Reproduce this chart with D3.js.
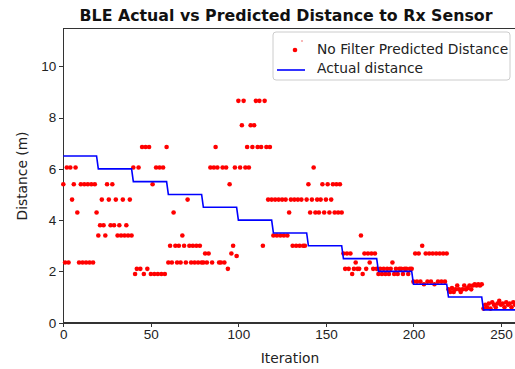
<!DOCTYPE html>
<html lang="en">
<head>
    <meta charset="UTF-8">
    <title>BLE Actual vs Predicted Distance to Rx Sensor</title>
    <script src="https://d3js.org/d3.v7.min.js"></script>
    <style>
        body { margin: 0; background: #fff; overflow: hidden; }
        svg { font-family: "DejaVu Sans", sans-serif; }
        .axis text { font-size: 13.5px; fill: #222; }
        .axis path, .axis line { stroke: #333; shape-rendering: crispEdges; }
    </style>
</head>
<body>
    <svg id="chart" width="515" height="369"></svg>

    <script>
        // predicted distance, one value per iteration (rows of 20)
        const predicted = [
            5.4, 2.35, 6.05, 2.35, 6.05, 4.8, 5.4, 6.05, 4.3, 2.35, 5.4, 2.35, 5.4, 2.35, 5.4, 2.35, 5.4, 2.35, 5.4, 4.3,
            3.4, 3.8, 4.8, 3.8, 3.4, 5.4, 4.8, 3.8, 5.4, 3.8, 4.8, 3.4, 3.8, 3.4, 4.8, 3.4, 3.8, 3.4, 4.8, 3.4,
            6.05, 1.9, 2.1, 6.05, 2.1, 6.85, 1.9, 6.85, 2.1, 6.85, 1.9, 5.4, 1.9, 6.05, 1.9, 6.05, 1.9, 6.05, 1.9, 6.85,
            2.35, 3.0, 2.35, 4.3, 3.0, 2.35, 3.0, 2.35, 3.4, 3.0, 2.35, 4.8, 3.0, 2.35, 3.0, 2.35, 3.0, 2.35, 3.0, 2.35,
            2.35, 2.7, 2.35, 2.7, 6.05, 2.35, 6.05, 6.85, 6.05, 2.35, 2.35, 6.05, 2.35, 6.05, 2.1, 5.4, 2.7, 3.0, 6.05, 2.6,
            8.65, 6.05, 7.7, 8.65, 6.05, 6.85, 6.05, 7.7, 6.85, 7.7, 8.65, 6.85, 8.65, 6.85, 3.0, 8.65, 6.85, 4.8, 6.85, 4.8,
            3.4, 4.8, 3.4, 4.8, 3.4, 4.8, 3.4, 4.8, 3.4, 4.3, 4.8, 3.0, 4.8, 3.0, 4.8, 3.0, 4.8, 3.0, 3.0, 4.8,
            5.4, 4.3, 4.8, 6.05, 4.3, 4.8, 4.3, 4.8, 5.4, 4.3, 4.8, 5.4, 4.3, 4.8, 5.4, 4.3, 5.4, 4.3, 5.4, 4.3,
            2.7, 2.1, 2.7, 2.1, 2.7, 1.9, 2.1, 2.35, 2.1, 2.1, 3.4, 1.9, 2.7, 2.1, 2.7, 2.35, 2.7, 2.1, 2.7, 2.1,
            1.9, 2.1, 1.9, 2.1, 1.9, 2.1, 1.9, 2.1, 2.35, 1.9, 2.1, 1.9, 2.1, 2.1, 1.9, 2.1, 2.1, 1.9, 2.1, 2.1,
            1.6, 2.7, 1.6, 2.7, 1.6, 3.0, 1.5, 2.7, 1.6, 2.7, 1.6, 2.7, 1.5, 2.7, 1.6, 2.7, 1.6, 2.7, 1.6, 2.7,
            1.3, 1.2, 1.35, 1.2, 1.3, 1.45, 1.3, 1.2, 1.3, 1.45, 1.3, 1.35, 1.45, 1.3, 1.45, 1.5, 1.45, 1.5, 1.45, 1.5,
            0.55, 0.7, 0.6, 0.75, 0.55, 0.8, 0.7, 0.6, 0.75, 0.85, 0.7, 0.75, 0.6, 0.8, 0.7, 0.75, 0.6, 0.8, 0.7, 0.75
        ];

        // actual distance: one level per block of iterations
        const actualStart = [0, 20, 40, 60, 80, 100, 120, 140, 160, 180, 200, 220, 240];
        const actualEnd   = [19, 39, 59, 79, 99, 119, 139, 159, 179, 199, 219, 239, 259];
        const actualDist  = [6.5, 6.0, 5.5, 5.0, 4.5, 4.0, 3.5, 3.0, 2.5, 2.0, 1.5, 1.0, 0.5];

        const xTicks = [0, 50, 100, 150, 200, 250];
        const yTicks = [0, 2, 4, 6, 8, 10];
        const legendLabels = ["No Filter Predicted Distance", "Actual distance"];

        const svg = d3.select("#chart");
        const margin = {top: 28.3, left: 63.3},
              plotW = 455.2, plotH = 294.4;

        const x = d3.scaleLinear().domain([0, 260]).range([margin.left, margin.left + plotW]);
        const y = d3.scaleLinear().domain([0, 11.48]).range([margin.top + plotH, margin.top]);

        // axes
        svg.append("g").attr("class", "axis")
            .attr("transform", `translate(0,${margin.top + plotH})`)
            .call(d3.axisBottom(x).tickValues(xTicks).tickSize(4).tickPadding(3).tickSizeOuter(0));
        svg.append("g").attr("class", "axis")
            .attr("transform", `translate(${margin.left},0)`)
            .call(d3.axisLeft(y).tickValues(yTicks).tickSize(4).tickPadding(3).tickSizeOuter(0));

        // frame
        svg.append("rect").attr("x", margin.left).attr("y", margin.top)
            .attr("width", plotW).attr("height", plotH)
            .attr("fill", "none").attr("stroke", "#333").attr("stroke-width", 1)
            .attr("shape-rendering", "crispEdges");

        // predicted dots
        svg.append("g").selectAll("circle").data(predicted).enter().append("circle")
            .attr("cx", (d, i) => x(i)).attr("cy", d => y(d))
            .attr("r", 2.3).attr("fill", "red");

        // actual distance line
        const actualPts = [];
        actualDist.forEach((d, i) => {
            actualPts.push([actualStart[i], d]);
            actualPts.push([actualEnd[i], d]);
        });
        svg.append("path").datum(actualPts)
            .attr("d", d3.line().x(d => x(d[0])).y(d => y(d[1])))
            .attr("fill", "none").attr("stroke", "blue").attr("stroke-width", 1.6);

        // title and labels
        svg.append("text").attr("x", 286).attr("y", 21).attr("text-anchor", "middle")
            .style("font-size", "15.8px").style("font-weight", "bold").style("fill", "#111")
            .text("BLE Actual vs Predicted Distance to Rx Sensor");
        svg.append("text").attr("x", 290).attr("y", 363).attr("text-anchor", "middle")
            .style("font-size", "13.8px").style("fill", "#222").text("Iteration");
        svg.append("text").attr("transform", "translate(27,176) rotate(-90)").attr("text-anchor", "middle")
            .style("font-size", "13.8px").style("fill", "#222").text("Distance (m)");

        // legend
        const lg = svg.append("g");
        lg.append("rect").attr("x", 273).attr("y", 32).attr("width", 237).attr("height", 48).attr("rx", 3)
            .attr("fill", "white").attr("fill-opacity", 0.8).attr("stroke", "#ccc");
        lg.append("circle").attr("cx", 295).attr("cy", 50).attr("r", 2.3).attr("fill", "red");
        lg.append("circle").attr("cx", 302).attr("cy", 41).attr("r", 1).attr("fill", "#f6a0a0");
        lg.append("line").attr("x1", 277).attr("x2", 305).attr("y1", 70).attr("y2", 70)
            .attr("stroke", "blue").attr("stroke-width", 1.6);
        lg.selectAll("text.leg").data(legendLabels).enter().append("text")
            .attr("x", 317).attr("y", (d, i) => 53.5 + i * 19.5)
            .style("font-size", "13.8px").style("fill", "#222").text(d => d);
    </script>
</body>
</html>
